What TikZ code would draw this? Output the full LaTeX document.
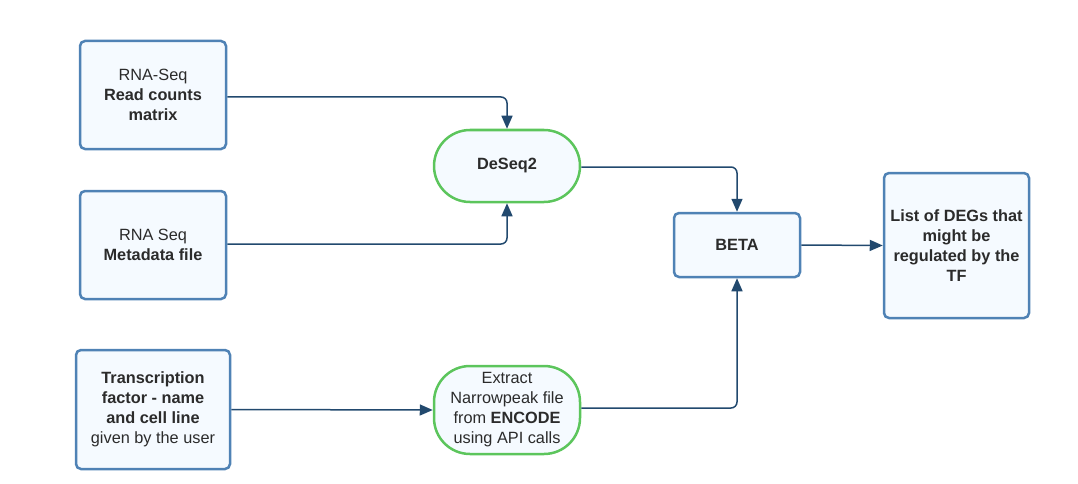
\documentclass[tikz,border=0pt]{standalone}
\usepackage{fontspec}
\setmainfont{Liberation Sans}
\usetikzlibrary{arrows.meta}
\definecolor{bbord}{HTML}{4F82B5}
\definecolor{gbord}{HTML}{5CC55C}
\definecolor{bfill}{HTML}{F5FAFF}
\definecolor{arr}{HTML}{22496E}
\definecolor{txt}{HTML}{2B2B2B}
\tikzset{
  box/.style={draw=bbord, line width=2.5pt, fill=bfill, rounded corners=5pt, align=center, text=txt, inner sep=0pt, font=\fontsize{16.3}{20}\selectfont},
  pill/.style={draw=gbord, line width=2.5pt, fill=bfill, rounded corners=36pt, align=center, text=txt, inner sep=0pt, font=\fontsize{16.3}{20}\selectfont},
  conn/.style={draw=arr, line width=1.5pt, rounded corners=6pt, -{Triangle[length=13pt,width=11pt]}}
}
\begin{document}
\begin{tikzpicture}[x=1pt,y=-1pt]
\useasboundingbox (0,0) rectangle (1078,484);
\node[box, minimum width=146pt, minimum height=108pt] (a) at (153,95) {RNA-Seq\\\textbf{Read counts}\\\textbf{matrix}};
\node[box, minimum width=146pt, minimum height=108pt] (b) at (153,245) {RNA Seq\\\textbf{Metadata file}};
\node[box, minimum width=154pt, minimum height=119pt] (c) at (153,409.5) {\textbf{Transcription}\\\textbf{factor - name}\\\textbf{and cell line}\\given by the user};
\node[pill, minimum width=146pt, minimum height=72pt] (d) at (507,166) {\textbf{DeSeq2}};
\node[pill, minimum width=146pt, minimum height=88pt] (e) at (507,410) {Extract\\Narrowpeak file\\from \textbf{ENCODE}\\using API calls};
\node[box, minimum width=126pt, minimum height=64pt] (f) at (737,245) {\textbf{BETA}};
\node[box, minimum width=145pt, minimum height=145pt] (g) at (956.5,245.5) {\textbf{List of DEGs that}\\\textbf{might be}\\\textbf{regulated by the}\\\textbf{TF}};
\draw[conn] (a.east |- 0,97) -- (507,97) -- (d.north);
\draw[conn] (b.east |- 0,244) -- (507,244) -- (d.south);
\draw[conn] (d.east |- 0,167) -- (737,167) -- (f.north);
\draw[conn] (e.east |- 0,408) -- (737,408) -- (f.south);
\draw[conn] (c.east) -- (e.west);
\draw[conn] (f.east) -- (g.west);
\end{tikzpicture}
\end{document}
